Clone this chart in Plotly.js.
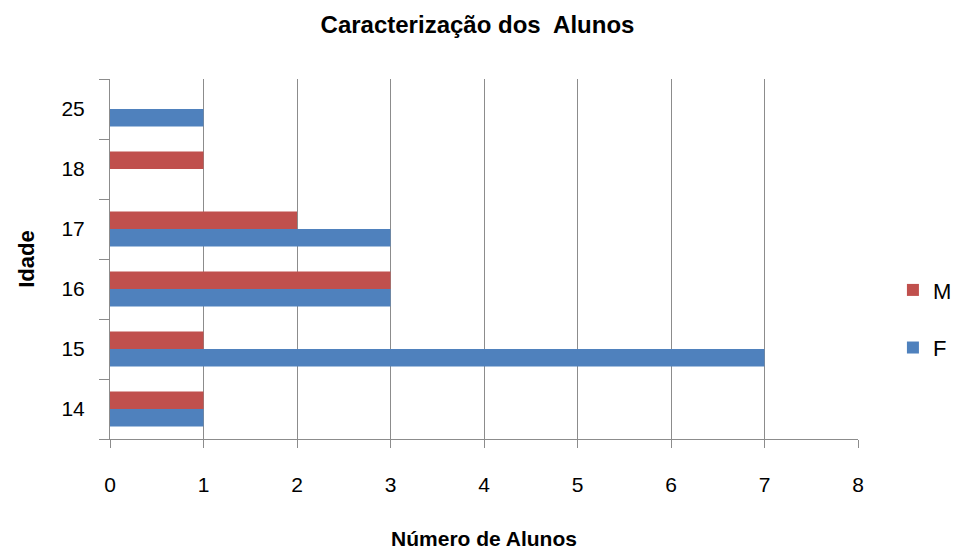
<!DOCTYPE html>
<html>
<head>
<meta charset="utf-8">
<script src="https://cdn.plot.ly/plotly-3.0.1.min.js"></script>
<style>html,body{margin:0;padding:0;background:#fff;}#chart{width:955px;height:554px;}</style>
</head>
<body>
<div id="chart"></div>
<script>
var categories = ["14", "15", "16", "17", "18", "25"];
var valuesF = [1, 7, 3, 3, 0, 1];
var valuesM = [1, 1, 3, 2, 1, 0];
var xTicks = [0, 1, 2, 3, 4, 5, 6, 7, 8];

var FONT = "'Liberation Sans', Arial, sans-serif";

var traces = [
  {type: "bar", orientation: "h", name: "F", y: categories, x: valuesF,
   marker: {color: "#4F81BD"}, legendgroup: "F", legendrank: 2, hoverinfo: "x+y"},
  {type: "bar", orientation: "h", name: "M", y: categories, x: valuesM,
   marker: {color: "#C0504D"}, legendgroup: "M", legendrank: 1, hoverinfo: "x+y"}
];

var layout = {
  width: 955, height: 554,
  margin: {l: 110, r: 97, t: 79, b: 115, autoexpand: false},
  paper_bgcolor: "#fff", plot_bgcolor: "#fff",
  barmode: "group", bargap: 0.42, bargroupgap: 0,
  font: {family: FONT, size: 21, color: "#000"},
  title: {text: "<b>Caracterização dos  Alunos</b>", x: 0.5, xanchor: "center", y: 0.955, yanchor: "middle",
          font: {family: FONT, size: 24, color: "#000"}},
  xaxis: {
    range: [0, 8], tickvals: xTicks, ticktext: xTicks.map(String),
    showgrid: true, gridcolor: "#8c8c8c", gridwidth: 1,
    showline: true, linecolor: "#8c8c8c", linewidth: 1,
    ticks: "outside", ticklen: 8, tickcolor: "#8c8c8c",
    ticklabelstandoff: 19,
    tickfont: {family: FONT, size: 21},
    zeroline: false,
    title: {text: "<b>Número de Alunos</b>", font: {family: FONT, size: 21}, standoff: 36}
  },
  yaxis: {
    type: "category", categoryorder: "array", categoryarray: categories,
    showgrid: false, showline: true, linecolor: "#8c8c8c", linewidth: 1,
    ticks: "outside", ticklen: 10, tickcolor: "#8c8c8c", tickson: "boundaries",
    ticklabelstandoff: 20,
    tickfont: {family: FONT, size: 21},
    title: {text: "<b>Idade</b>", font: {family: FONT, size: 22}, standoff: 20}
  },
  legend: {
    xref: "container", yref: "paper",
    x: 0.935, xanchor: "left", y: 0.333, yanchor: "middle",
    traceorder: "grouped", tracegroupgap: 26,
    font: {family: FONT, size: 22, color: "#000"},
    itemwidth: 30,
    bgcolor: "rgba(0,0,0,0)"
  },
  showlegend: true
};

Plotly.newPlot("chart", traces, layout, {displayModeBar: false, staticPlot: true});
</script>
</body>
</html>
